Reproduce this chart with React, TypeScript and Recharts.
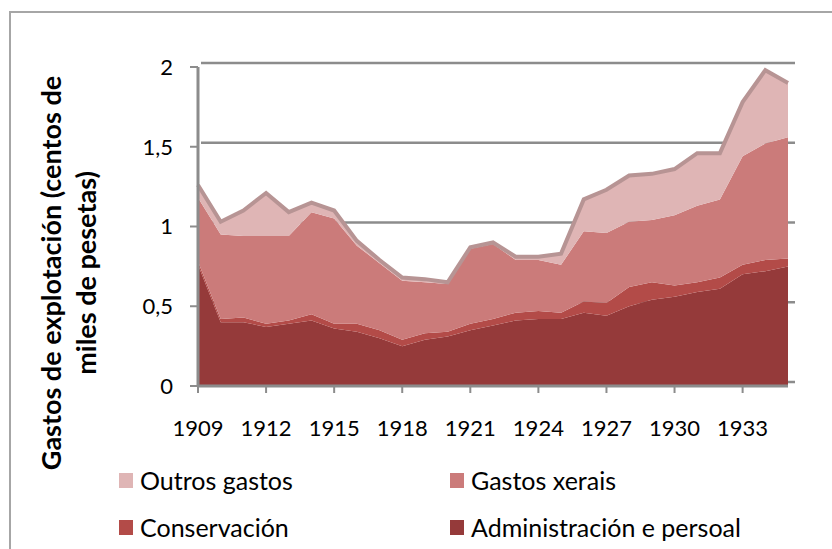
import { AreaChart, Area, XAxis, YAxis, CartesianGrid } from 'recharts'

const years = [
  '1909', '1910', '1911', '1912', '1913', '1914', '1915', '1916', '1917',
  '1918', '1919', '1920', '1921', '1922', '1923', '1924', '1925', '1926',
  '1927', '1928', '1929', '1930', '1931', '1932', '1933', '1934', '1935',
]

// centos de miles de pesetas
const administracion = [
  0.76, 0.4, 0.4, 0.37, 0.39, 0.41, 0.36, 0.34, 0.3, 0.25, 0.29, 0.31, 0.35, 0.38,
  0.41, 0.42, 0.42, 0.46, 0.44, 0.5, 0.54, 0.56, 0.59, 0.61, 0.7, 0.72, 0.75,
]
const conservacion = [
  0.02, 0.02, 0.03, 0.02, 0.02, 0.04, 0.03, 0.05, 0.05, 0.04, 0.04, 0.03, 0.04, 0.04,
  0.05, 0.05, 0.04, 0.07, 0.08, 0.12, 0.11, 0.07, 0.06, 0.07, 0.06, 0.07, 0.05,
]
const xerais = [
  0.4, 0.53, 0.51, 0.55, 0.53, 0.64, 0.66, 0.49, 0.42, 0.37, 0.32, 0.3, 0.47, 0.47,
  0.33, 0.32, 0.3, 0.44, 0.44, 0.41, 0.39, 0.44, 0.48, 0.49, 0.68, 0.73, 0.76,
]
const outros = [
  0.08, 0.08, 0.16, 0.27, 0.15, 0.06, 0.05, 0.03, 0.02, 0.02, 0.02, 0.01, 0.01, 0.01,
  0.02, 0.02, 0.07, 0.2, 0.27, 0.29, 0.29, 0.29, 0.33, 0.29, 0.34, 0.46, 0.34,
]

const yTicks = [0, 0.5, 1, 1.5, 2]

const series = [
  { key: 'administracion', name: 'Administración e persoal', color: '#953a3a' },
  { key: 'conservacion', name: 'Conservación', color: '#b34b48' },
  { key: 'xerais', name: 'Gastos xerais', color: '#cb7b7a' },
  { key: 'outros', name: 'Outros gastos', color: '#dfb5b5' },
]

const legendOrder = ['outros', 'xerais', 'conservacion', 'administracion']

const data = years.map((year, i) => ({
  year,
  administracion: administracion[i],
  conservacion: conservacion[i],
  xerais: xerais[i],
  outros: outros[i],
}))

const font = 'Lato, "Open Sans", sans-serif'
const axisGrey = '#8c8c8c'

function YTitle() {
  const style = { fontFamily: font, fontSize: 27, fontWeight: 700, fill: '#000' }
  return (
    <g>
      <text transform="translate(61,273) rotate(-90)" textAnchor="middle" style={style}>
        Gastos de explotación (centos de
      </text>
      <text transform="translate(96,273) rotate(-90)" textAnchor="middle" style={style}>
        miles de pesetas)
      </text>
    </g>
  )
}

function BackGridLine(p: any) {
  // back wall of the 3D plot sits a few px up and right
  return (
    <line
      key={`grid-${p.index}-${p.y1}`}
      x1={p.x1 + 3}
      x2={p.x2 + 7}
      y1={p.y1 - 4}
      y2={p.y2 - 4}
      stroke={axisGrey}
      strokeWidth={2.5}
    />
  )
}

function LegendBlock() {
  const cols = [119, 450]
  const rows = [480, 527]
  return (
    <>
      {legendOrder.map((k, i) => {
        const s = series.find((x) => x.key === k)!
        const left = cols[i % 2]
        const cy = rows[Math.floor(i / 2)]
        return (
          <div
            key={k}
            style={{
              position: 'absolute',
              left,
              top: cy - 16,
              height: 32,
              display: 'flex',
              alignItems: 'center',
              fontFamily: font,
              fontSize: 25,
              color: '#000',
              whiteSpace: 'nowrap',
            }}
          >
            <span style={{ display: 'inline-block', width: 14, height: 15, background: s.color, marginRight: 7 }} />
            {s.name}
          </div>
        )
      })}
    </>
  )
}

export default function App() {
  return (
    <div style={{ position: 'absolute', left: 0, top: 0, width: 832, height: 549, overflow: 'hidden', background: '#fff' }}>
      <div
        style={{
          position: 'absolute',
          left: 9,
          top: 11,
          width: 900,
          height: 600,
          border: '2px solid #a6a6a6',
        }}
      />
      <AreaChart
        width={832}
        height={549}
        data={data}
        margin={{ top: 67, right: 44, bottom: 123, left: 138 }}
        style={{ position: 'absolute', left: 0, top: 0 }}
      >
        <CartesianGrid vertical={false} horizontal={BackGridLine} />
        <XAxis
          dataKey="year"
          interval={2}
          height={40}
          tickSize={7}
          tickMargin={27}
          axisLine={{ stroke: axisGrey, strokeWidth: 3 }}
          tickLine={{ stroke: axisGrey, strokeWidth: 2 }}
          tick={{ fontFamily: font, fontSize: 22, fill: '#000' }}
        />
        <YAxis
          width={60}
          domain={[0, 2]}
          ticks={yTicks}
          tickSize={8}
          tickMargin={17}
          tickFormatter={(v: number) => String(v).replace('.', ',')}
          axisLine={{ stroke: axisGrey, strokeWidth: 3 }}
          tickLine={{ stroke: axisGrey, strokeWidth: 2 }}
          tick={{ fontFamily: font, fontSize: 22, fill: '#000' }}
          label={<YTitle />}
        />
        {series.map((s) => (
          <Area
            key={s.key}
            type="linear"
            dataKey={s.key}
            name={s.name}
            stackId="gastos"
            fill={s.color}
            fillOpacity={1}
            stroke={s.key === 'outros' ? '#b79494' : 'none'}
            strokeWidth={s.key === 'outros' ? 4 : 0}
            isAnimationActive={false}
          />
        ))}
      </AreaChart>
      <LegendBlock />
    </div>
  )
}
